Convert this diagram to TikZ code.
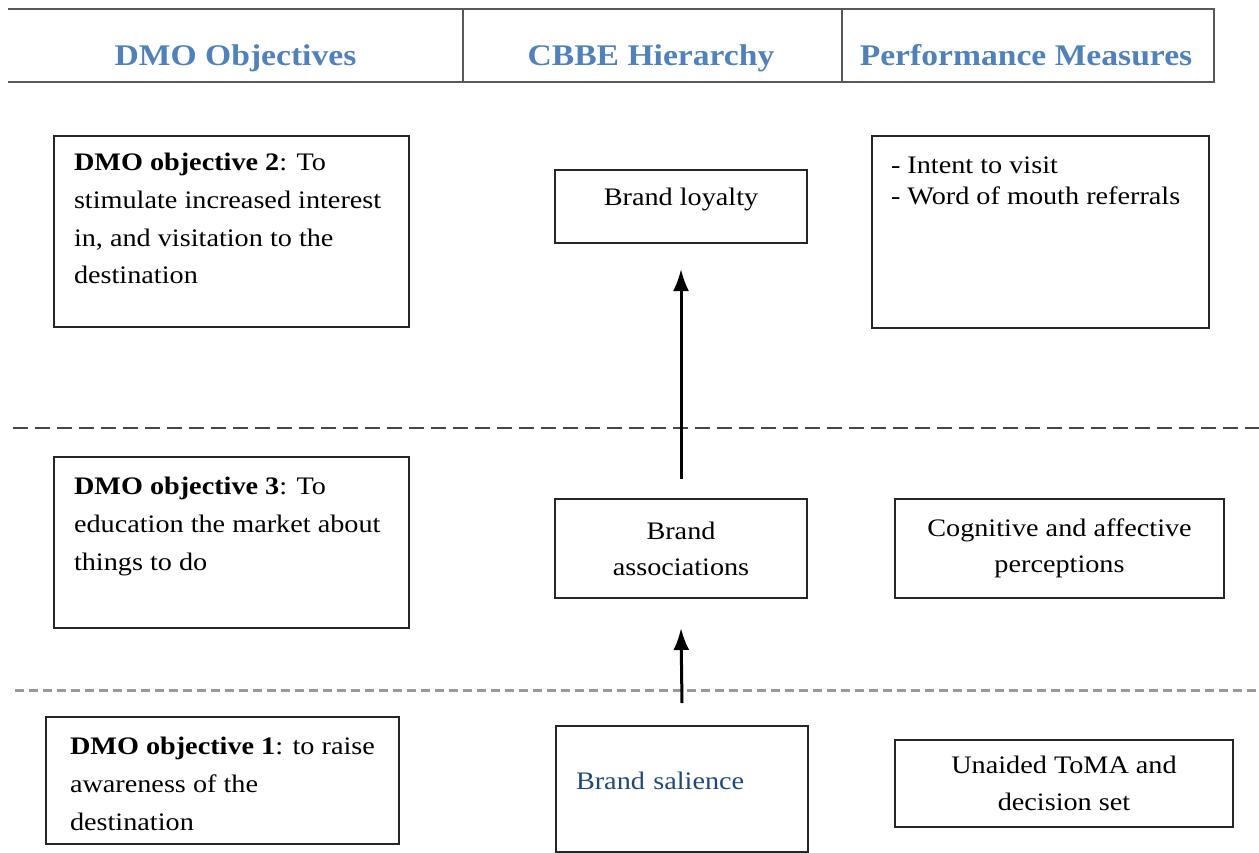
\documentclass[tikz,border=0pt]{standalone}
\usepackage{fontspec}
\setmainfont{Liberation Serif}[FakeStretch=1.12]
\usepackage{tikz}
\usetikzlibrary{positioning}
\usetikzlibrary{arrows.meta}
\definecolor{headblue}{RGB}{79,129,189}
\definecolor{textblue}{RGB}{31,73,125}
\newcommand{\bodysize}{\fontsize{12.6}{18.9}\selectfont}
\newcommand{\topfill}[3]{\begin{minipage}[t][#2][t]{#1}\raggedright #3\end{minipage}}
\tikzset{
  headline/.style={draw=black!65, line width=1pt},
  headtext/.style={font=\fontsize{15}{18}\selectfont\bfseries, text=headblue, anchor=base},
  cell/.style={draw=black!85, line width=1pt, font=\bodysize, inner sep=0pt},
  objbox/.style={cell, anchor=north west, inner xsep=10pt, inner ysep=8.5pt},
  midbox/.style={cell, align=center},
  sepA/.style={black!72, line width=1.3pt, dash pattern=on 7.5pt off 3.5pt},
  sepB/.style={black!40, line width=1.3pt, dash pattern=on 4.5pt off 2.5pt},
  flow/.style={-{Latex[length=11pt,width=8pt]}, line width=1.5pt}
}

\begin{document}
\begin{tikzpicture}[x=0.5pt,y=-0.5pt]
\useasboundingbox (0,0) rectangle (1259,852);
% header row
\draw[headline] (8,9) -- (1214,9) -- (1214,82) -- (8,82);
\draw[headline] (463,9) -- (463,82);
\draw[headline] (842,9) -- (842,82);
\node[headtext] (hobj) at (235.5,65) {DMO Objectives};
\node[headtext] (hcbbe) at (651,65) {CBBE Hierarchy};
\node[headtext] (hperf) at (1026,65) {Performance Measures};
% level separators
\draw[sepA] (13,428) -- (1259,428);
\draw[sepB] (15,690.5) -- (1259,690.5);
% objectives
\node[objbox] (obj2) at (53,135) {\topfill{157.5pt}{78.5pt}{\textbf{DMO objective 2}: To\\ stimulate increased interest\\ in, and visitation to the\\ destination}};
\node[objbox, inner ysep=10pt] (obj3) at (53,456) {\topfill{157.5pt}{65.5pt}{\textbf{DMO objective 3}: To\\ education the market about\\ things to do}};
\node[objbox, inner xsep=12pt, inner ysep=10pt] (obj1) at (45,716) {\topfill{152.5pt}{43.5pt}{\textbf{DMO objective 1}: to raise\\ awareness of the\\ destination}};
% hierarchy
\node[midbox, minimum width=126pt, text height=17.5pt, text depth=19pt] (loyalty) at (681,206.5) {Brand loyalty};
\node[midbox, minimum width=126pt, minimum height=49.5pt, font=\fontsize{12.6}{18}\selectfont] (assoc) at (681,548.5) {Brand\\associations};
\node[cell, anchor=north west, text width=106pt, inner xsep=10pt, align=left, text height=31.5pt, text depth=31.5pt, text=textblue] (salience) at (555,725) {Brand salience};
% measures
\node[objbox, inner xsep=9.5pt, inner ysep=10.4pt, font=\fontsize{12.6}{15.5}\selectfont] (intent) at (871,135) {\topfill{149.5pt}{75.2pt}{- Intent to visit\\ - Word of mouth referrals}};
\node[midbox, minimum width=164.5pt, minimum height=49.5pt, font=\fontsize{12.6}{18}\selectfont] (percept) at (1059.5,548.5) {Cognitive and affective\\perceptions};
\node[midbox, minimum width=169pt, minimum height=43.5pt, font=\fontsize{12.6}{18.5}\selectfont] (toma) at (1064,783.5) {Unaided ToMA and\\decision set};
\draw[flow] ([yshift=9.5pt]assoc.north) -- ([yshift=-12.5pt]loyalty.south);
\draw[flow] ([yshift=11pt]salience.north) -- ([yshift=-14.5pt]assoc.south);
\end{tikzpicture}
\end{document}
